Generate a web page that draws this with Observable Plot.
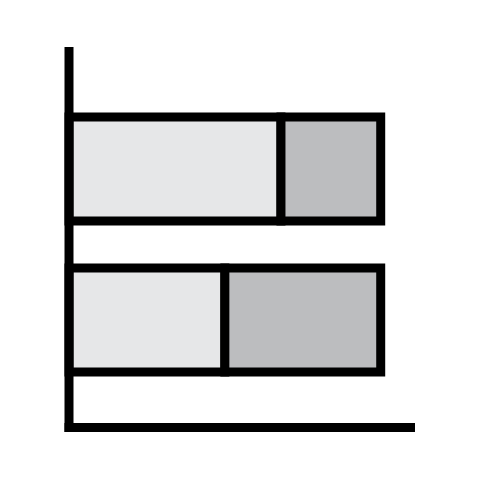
<!DOCTYPE html>
<html>
<head>
<meta charset="utf-8">
<script src="https://cdn.jsdelivr.net/npm/d3@7"></script>
<script src="https://cdn.jsdelivr.net/npm/@observablehq/plot@0.6"></script>
<style>
  html, body { margin: 0; padding: 0; background: #fff; }
  svg { display: block; }
</style>
</head>
<body>
<div id="chart"></div>
<script>
const categories = ["A", "B"];
const firstValues = [68, 50];
const secondValues = [32, 50];
const seriesNames = ["first", "second"];
const seriesColors = ["#e6e7e8", "#bcbdbf"];

const rows = [];
categories.forEach((c, i) => {
  rows.push({cat: c, series: seriesNames[0], x1: 0, x2: firstValues[i]});
  rows.push({cat: c, series: seriesNames[1], x1: firstValues[i], x2: firstValues[i] + secondValues[i]});
});

const sw = 9;
const chart = Plot.plot({
  width: 480,
  height: 480,
  margin: 0,
  x: {domain: [0, 111], range: [69, 415], axis: null},
  y: {type: "band", domain: categories, range: [116.5, 371.5], paddingInner: 0.3113, paddingOuter: 0, axis: null},
  color: {domain: seriesNames, range: seriesColors},
  marks: [
    Plot.rectX(rows, {y: "cat", x1: "x1", x2: "x2", fill: "series", stroke: "black", strokeWidth: sw, inset: 0}),
    Plot.ruleX([0], {y1: 47, y2: 432, stroke: "black", strokeWidth: sw, render: (I, scales, values, dims, ctx, next) => next(I, scales, values, dims, ctx)}),
  ]
});

// axes drawn in pixel space of the plot via scale mapping
const svg = d3.select(chart);
const xs = chart.scale("x");
const x0 = xs.apply(0);
const xEnd = xs.apply(111);
svg.selectAll("g[aria-label='rule']").remove();
svg.append("line").attr("x1", x0).attr("x2", x0).attr("y1", 47).attr("y2", 432)
  .attr("stroke", "black").attr("stroke-width", sw);
svg.append("line").attr("x1", x0 - sw / 2).attr("x2", xEnd).attr("y1", 427.5).attr("y2", 427.5)
  .attr("stroke", "black").attr("stroke-width", sw);

document.getElementById("chart").append(chart);
</script>
</body>
</html>
